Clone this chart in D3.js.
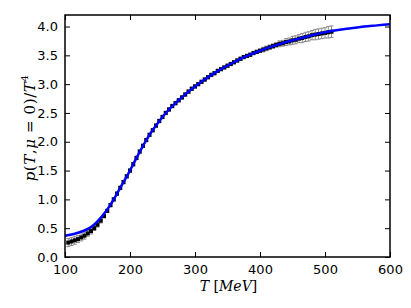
<!DOCTYPE html>
<html>
<head>
<meta charset="utf-8">
<script src="https://cdn.jsdelivr.net/npm/d3@7"></script>
<style>
body { margin: 0; background: #fff; }
svg { display: block; }
</style>
</head>
<body>
<svg id="chart"></svg>
<script>
var width = 411;
var height = 308;

// lattice data points
var latT = [105,110,115,120,125,130,135,140,145,150,155,160,165,170,175,180,185,190,195,200,
    205,210,215,220,225,230,235,240,245,250,255,260,265,270,275,280,285,290,295,300,
    305,310,315,320,325,330,335,340,345,350,355,360,365,370,375,380,385,390,395,400,
    405,410,415,420,425,430,435,440,445,450,455,460,465,470,475,480,485,490,495,500,505,510];
var latP = [0.25,0.27,0.29,0.31,0.34,0.37,0.41,0.45,0.50,0.56,0.63,0.71,0.80,0.90,1.00,1.10,1.20,1.30,1.40,1.50,
    1.61,1.72,1.83,1.93,2.03,2.12,2.20,2.28,2.36,2.43,2.50,2.56,2.62,2.67,2.72,2.77,2.82,2.87,2.92,2.96,
    3.00,3.04,3.08,3.12,3.16,3.19,3.23,3.26,3.29,3.32,3.35,3.38,3.41,3.44,3.47,3.49,3.51,3.54,3.56,3.58,
    3.60,3.62,3.64,3.66,3.68,3.70,3.71,3.73,3.74,3.76,3.77,3.79,3.80,3.82,3.83,3.85,3.86,3.87,3.88,3.89,3.90,3.91];
var latErr = [0.07,0.07,0.07,0.06,0.06,0.06,0.05,0.05,0.04,0.04,0.04,0.03,0.03,0.03,0.03,0.03,0.03,0.03,0.03,0.03,
    0.03,0.03,0.03,0.03,0.03,0.03,0.03,0.03,0.03,0.03,0.03,0.03,0.03,0.03,0.03,0.03,0.03,0.03,0.03,0.03,
    0.03,0.03,0.03,0.03,0.03,0.03,0.03,0.03,0.03,0.03,0.03,0.03,0.03,0.03,0.03,0.03,0.03,0.03,0.03,0.03,
    0.04,0.04,0.04,0.04,0.04,0.05,0.05,0.06,0.06,0.07,0.07,0.07,0.08,0.08,0.08,0.08,0.09,0.09,0.09,0.09,0.10,0.10];

// model curve
var curveT = [100,110,120,130,140,150,160,170,180,190,200,210,220,230,240,250,260,270,280,290,300,
    320,340,360,380,400,420,440,460,480,500,520,540,560,580,600];
var curveP = [0.37,0.39,0.42,0.46,0.52,0.62,0.75,0.91,1.10,1.30,1.50,1.72,1.93,2.12,2.28,2.43,2.56,2.67,2.77,2.87,2.96,
    3.12,3.26,3.38,3.49,3.58,3.66,3.73,3.79,3.85,3.90,3.94,3.97,4.00,4.02,4.04];

var xTicks = [100,200,300,400,500,600];
var yTicks = [0,0.5,1,1.5,2,2.5,3,3.5,4];

var pl = 65, pr = 390, pt = 15, pb = 257;

var svg = d3.select("#chart").attr("width", width).attr("height", height);

var x = d3.scaleLinear().domain([100, 600]).range([pl, pr]);
var y = d3.scaleLinear().domain([0, 4.2]).range([pb, pt]);

var pts = latT.map(function(t, i) { return {t: t, p: latP[i], e: latErr[i]}; });

// error bars
var eb = svg.append("g").attr("stroke", "#8c8c8c").attr("stroke-width", 1);
eb.selectAll("line.v").data(pts).enter().append("line")
    .attr("x1", function(d) { return x(d.t); })
    .attr("x2", function(d) { return x(d.t); })
    .attr("y1", function(d) { return y(d.p - d.e); })
    .attr("y2", function(d) { return y(d.p + d.e); });
eb.selectAll("line.t").data(pts).enter().append("line")
    .attr("x1", function(d) { return x(d.t) - 2; })
    .attr("x2", function(d) { return x(d.t) + 2; })
    .attr("y1", function(d) { return y(d.p + d.e); })
    .attr("y2", function(d) { return y(d.p + d.e); });
eb.selectAll("line.b").data(pts).enter().append("line")
    .attr("x1", function(d) { return x(d.t) - 2; })
    .attr("x2", function(d) { return x(d.t) + 2; })
    .attr("y1", function(d) { return y(d.p - d.e); })
    .attr("y2", function(d) { return y(d.p - d.e); });

svg.append("g").selectAll("rect").data(pts).enter().append("rect")
    .attr("x", function(d) { return x(d.t) - 2; })
    .attr("y", function(d) { return y(d.p) - 2; })
    .attr("width", 4).attr("height", 4)
    .attr("fill", "#000");

var line = d3.line()
    .x(function(d, i) { return x(curveT[i]); })
    .y(function(d) { return y(d); })
    .curve(d3.curveMonotoneX);

svg.append("path").datum(curveP)
    .attr("d", line)
    .attr("fill", "none")
    .attr("stroke", "#0000ff")
    .attr("stroke-width", 2.5);

// axes, ticks inside on all sides
var fnt = "DejaVu Sans, sans-serif";
svg.append("g").attr("transform", "translate(0," + pb + ")")
    .call(d3.axisBottom(x).tickValues(xTicks).tickSizeInner(-5).tickSizeOuter(0).tickPadding(8));
svg.append("g").attr("transform", "translate(0," + pt + ")")
    .call(d3.axisTop(x).tickValues(xTicks).tickSizeInner(-5).tickSizeOuter(0).tickFormat(""));
svg.append("g").attr("transform", "translate(" + pl + ",0)")
    .call(d3.axisLeft(y).tickValues(yTicks).tickSizeInner(-5).tickSizeOuter(0).tickPadding(7).tickFormat(d3.format(".1f")));
svg.append("g").attr("transform", "translate(" + pr + ",0)")
    .call(d3.axisRight(y).tickValues(yTicks).tickSizeInner(-5).tickSizeOuter(0).tickFormat(""));

svg.selectAll(".domain").remove();
svg.selectAll(".tick line").attr("stroke", "#000").attr("stroke-width", 1);
svg.selectAll(".tick text").attr("font-family", fnt).attr("font-size", 13).attr("fill", "#000");

svg.append("rect")
    .attr("x", pl).attr("y", pt)
    .attr("width", pr - pl).attr("height", pb - pt)
    .attr("fill", "none").attr("stroke", "#000").attr("stroke-width", 1.5);

// axis labels
var xl = svg.append("text")
    .attr("x", (pl + pr) / 2 + 1).attr("y", 291)
    .attr("text-anchor", "middle")
    .attr("font-family", "DejaVu Serif, serif").attr("font-size", 14);
xl.append("tspan").attr("font-style", "italic").text("T");
xl.append("tspan").text(" [");
xl.append("tspan").attr("font-style", "italic").text("MeV");
xl.append("tspan").text("]");

var yl = svg.append("text")
    .attr("transform", "translate(35,128) rotate(-90)")
    .attr("text-anchor", "middle")
    .attr("font-family", "DejaVu Serif, serif").attr("font-size", 15)
    .attr("letter-spacing", 0.6);
yl.append("tspan").attr("font-style", "italic").text("p");
yl.append("tspan").text("(");
yl.append("tspan").attr("font-style", "italic").text("T");
yl.append("tspan").text(",");
yl.append("tspan").attr("font-style", "italic").text("μ");
yl.append("tspan").text(" = 0)/");
yl.append("tspan").attr("font-style", "italic").text("T");
yl.append("tspan").attr("font-size", 10).attr("dy", -7).text("4");
</script>
</body>
</html>
